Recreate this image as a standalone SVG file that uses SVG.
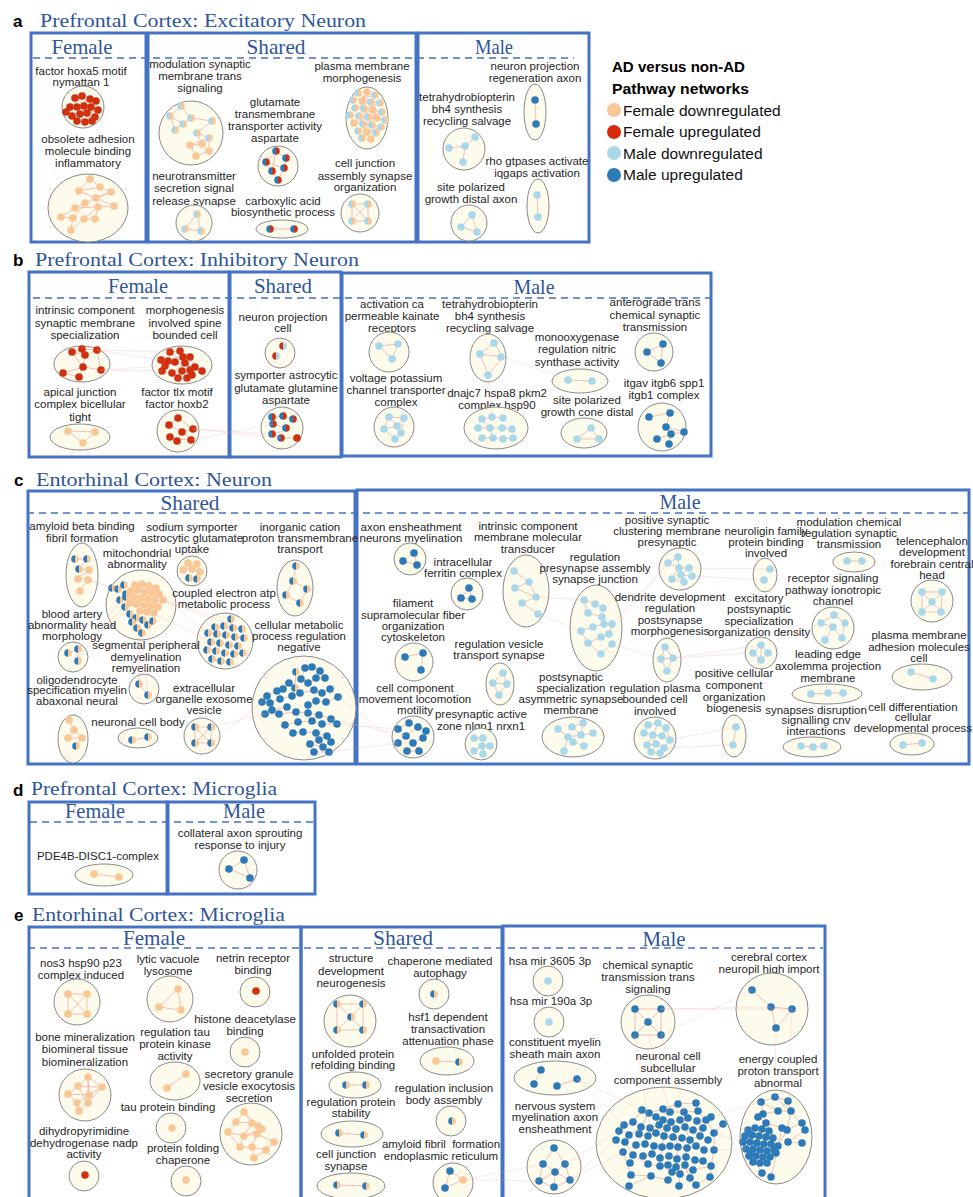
<svg xmlns="http://www.w3.org/2000/svg" width="973" height="1197" viewBox="0 0 973 1197">
<style>
.t{font-family:"Liberation Sans",Arial,sans-serif;font-size:11.5px;fill:#262626;text-anchor:middle}
.cl{fill:#fdfbec;stroke:#8a8a8a;stroke-width:1}
.e{stroke:#f3a49c;stroke-width:0.7;fill:none}
.box{fill:none;stroke:#4472c4;stroke-width:3}
.dash{stroke:#4472c4;stroke-width:1.6;stroke-dasharray:7 5;fill:none}
.ttl{font-family:"Liberation Serif","Times New Roman",serif;font-size:19.5px;fill:#2f5597}
.hd{font-family:"Liberation Serif","Times New Roman",serif;font-size:21px;fill:#2f5597;text-anchor:middle}
.pl{font-family:"Liberation Sans",Arial,sans-serif;font-size:17px;font-weight:bold;fill:#000}
.lg{font-family:"Liberation Sans",Arial,sans-serif;font-size:15.5px;fill:#111}
.lgb{font-family:"Liberation Sans",Arial,sans-serif;font-size:15px;font-weight:bold;fill:#000}
.cx{stroke:#f2aaa4;stroke-width:0.6;opacity:0.45;fill:none}
</style>
<defs>
<g id="fd"><circle r="3.8" fill="#f9c795"/></g>
<g id="fu"><circle r="3.8" fill="#cf3010"/></g>
<g id="md"><circle r="3.8" fill="#a9d8ea"/></g>
<g id="mu"><circle r="3.8" fill="#2d7ab8"/></g>
<g id="bp"><path d="M0,-3.8A3.8,3.8 0 0 0 0,3.8Z" fill="#2d7ab8"/><path d="M0,-3.8A3.8,3.8 0 0 1 0,3.8Z" fill="#f9c795"/></g>
<g id="lp"><path d="M0,-3.8A3.8,3.8 0 0 0 0,3.8Z" fill="#a9d8ea"/><path d="M0,-3.8A3.8,3.8 0 0 1 0,3.8Z" fill="#f9c795"/></g>
<g id="br"><path d="M0,-3.8A3.8,3.8 0 0 0 0,3.8Z" fill="#2d7ab8"/><path d="M0,-3.8A3.8,3.8 0 0 1 0,3.8Z" fill="#cf3010"/></g>
<g id="rl"><path d="M0,-3.8A3.8,3.8 0 0 0 0,3.8Z" fill="#cf3010"/><path d="M0,-3.8A3.8,3.8 0 0 1 0,3.8Z" fill="#a9d8ea"/></g>
</defs>
<rect width="973" height="1197" fill="#fff"/>

<!-- ===== Panel frames and titles ===== -->
<g id="frames">
<text class="pl" x="13" y="27">a</text>
<text class="ttl" x="40" y="27" textLength="326" lengthAdjust="spacingAndGlyphs">Prefrontal Cortex: Excitatory Neuron</text>
<rect class="box" x="31" y="33" width="115" height="209"/>
<rect class="box" x="148" y="33" width="268" height="209"/>
<rect class="box" x="418" y="33" width="171" height="209"/>
<line class="dash" x1="33" y1="58" x2="574" y2="58"/>
<text class="hd" x="82" y="54" textLength="61" lengthAdjust="spacingAndGlyphs">Female</text>
<text class="hd" x="276" y="54" textLength="59" lengthAdjust="spacingAndGlyphs">Shared</text>
<text class="hd" x="494" y="54" textLength="38" lengthAdjust="spacingAndGlyphs">Male</text>

<text class="pl" x="13" y="266">b</text>
<text class="ttl" x="35" y="266" textLength="324" lengthAdjust="spacingAndGlyphs">Prefrontal Cortex: Inhibitory Neuron</text>
<rect class="box" x="29" y="272" width="200" height="185"/>
<rect class="box" x="230" y="272" width="111" height="185"/>
<rect class="box" x="342" y="273" width="369" height="183"/>
<line class="dash" x1="33" y1="298" x2="714" y2="298"/>
<text class="hd" x="138" y="293" textLength="60" lengthAdjust="spacingAndGlyphs">Female</text>
<text class="hd" x="283" y="293" textLength="58" lengthAdjust="spacingAndGlyphs">Shared</text>
<text class="hd" x="534" y="294" textLength="41" lengthAdjust="spacingAndGlyphs">Male</text>

<text class="pl" x="14" y="486">c</text>
<text class="ttl" x="36" y="486" textLength="236" lengthAdjust="spacingAndGlyphs">Entorhinal Cortex: Neuron</text>
<rect class="box" x="28" y="491" width="327" height="273"/>
<rect class="box" x="357" y="490" width="612" height="274"/>
<line class="dash" x1="27" y1="513" x2="968" y2="513"/>
<text class="hd" x="190" y="510" textLength="59" lengthAdjust="spacingAndGlyphs">Shared</text>
<text class="hd" x="680" y="509" textLength="41" lengthAdjust="spacingAndGlyphs">Male</text>

<text class="pl" x="13" y="796">d</text>
<text class="ttl" x="31" y="795" textLength="246" lengthAdjust="spacingAndGlyphs">Prefrontal Cortex: Microglia</text>
<rect class="box" x="29" y="802" width="138" height="92"/>
<rect class="box" x="168" y="802" width="147" height="92"/>
<line class="dash" x1="30" y1="822" x2="313" y2="822"/>
<text class="hd" x="95" y="818" textLength="60" lengthAdjust="spacingAndGlyphs">Female</text>
<text class="hd" x="244" y="818" textLength="42" lengthAdjust="spacingAndGlyphs">Male</text>

<text class="pl" x="14" y="921">e</text>
<text class="ttl" x="32" y="921" textLength="253" lengthAdjust="spacingAndGlyphs">Entorhinal Cortex: Microglia</text>
<rect class="box" x="29" y="927" width="272" height="280"/>
<rect class="box" x="301" y="927" width="201" height="280"/>
<rect class="box" x="503" y="926" width="322" height="281"/>
<line class="dash" x1="28" y1="948" x2="823" y2="948"/>
<text class="hd" x="154" y="945" textLength="62" lengthAdjust="spacingAndGlyphs">Female</text>
<text class="hd" x="403" y="945" textLength="60" lengthAdjust="spacingAndGlyphs">Shared</text>
<text class="hd" x="664" y="946" textLength="43" lengthAdjust="spacingAndGlyphs">Male</text>
</g>

<!-- ===== Legend ===== -->
<g id="legend">
<text class="lgb" x="612" y="72" textLength="133" lengthAdjust="spacingAndGlyphs">AD versus non-AD</text>
<text class="lgb" x="612" y="94" textLength="137" lengthAdjust="spacingAndGlyphs">Pathway networks</text>
<circle cx="614" cy="110" r="7" fill="#f9c795"/>
<text class="lg" x="623" y="116">Female downregulated</text>
<circle cx="614" cy="132" r="7" fill="#d92b0c"/>
<text class="lg" x="623" y="137">Female upregulated</text>
<circle cx="614" cy="153" r="7" fill="#a9d8ea"/>
<text class="lg" x="623" y="159">Male downregulated</text>
<circle cx="614" cy="175" r="7" fill="#2d7ab8"/>
<text class="lg" x="623" y="180">Male upregulated</text>
</g>

<!-- ===== Panel a nodes ===== -->
<g id="a-f-hoxa5">
<text class="t" x="81" y="75">factor hoxa5 motif</text>
<text class="t" x="81" y="86">nymattan 1</text>
<circle class="cl" cx="83" cy="107" r="21"/>
<path class="e" d="M75,98L91,107L72,116L84,106L96,101L87,113L77,121L70,107L82,96L95,117L80,114L98,110L85,122L66,112L90,99L77,107L92,121"/>
<use href="#fu" x="75" y="98"/><use href="#fu" x="82" y="96"/><use href="#fu" x="90" y="99"/><use href="#fu" x="96" y="101"/><use href="#fu" x="70" y="107"/><use href="#fu" x="77" y="107"/><use href="#fu" x="84" y="106"/><use href="#fu" x="91" y="107"/><use href="#fu" x="98" y="110"/><use href="#fu" x="72" y="116"/><use href="#fu" x="80" y="114"/><use href="#fu" x="87" y="113"/><use href="#fu" x="95" y="117"/><use href="#fu" x="77" y="121"/><use href="#fu" x="85" y="122"/><use href="#fu" x="92" y="121"/><use href="#fu" x="66" y="112"/>
</g>
<g id="a-f-adhesion">
<text class="t" x="88" y="143">obsolete adhesion</text>
<text class="t" x="88" y="155">molecule binding</text>
<text class="t" x="88" y="167">inflammatory</text>
<ellipse class="cl" cx="88" cy="208" rx="40" ry="34"/>
<path class="e" d="M90,179L79,191L100,187L111,192L96,198L85,203L75,208L61,217L73,218L71,230M90,179L100,187M79,191L96,198L114,206L98,207L84,219L95,219L98,207M85,203L73,218M96,198L111,192M75,208L98,207M84,219L71,230"/>
<use href="#fd" x="90" y="179"/><use href="#fd" x="79" y="191"/><use href="#fd" x="100" y="187"/><use href="#fd" x="111" y="192"/><use href="#fd" x="85" y="203"/><use href="#fd" x="96" y="198"/><use href="#fd" x="75" y="208"/><use href="#fd" x="98" y="207"/><use href="#fd" x="114" y="206"/><use href="#fd" x="61" y="217"/><use href="#fd" x="73" y="218"/><use href="#fd" x="84" y="219"/><use href="#fd" x="95" y="219"/><use href="#fd" x="71" y="230"/>
</g>
<g id="a-s-modulation">
<text class="t" x="200" y="68">modulation synaptic</text>
<text class="t" x="200" y="80">membrane trans</text>
<text class="t" x="200" y="92">signaling</text>
<circle class="cl" cx="191" cy="133" r="32"/>
<path class="e" d="M181,106L170,116L183,124L191,118L181,106M170,116L175,130L183,124M191,118L212,121L197,133L209,138L190,145L202,144L209,151L196,156L190,145M197,133L202,144M209,138L209,151"/>
<use href="#lp" x="181" y="106"/><use href="#lp" x="170" y="116"/><use href="#lp" x="191" y="118"/><use href="#lp" x="183" y="124"/><use href="#lp" x="175" y="130"/><use href="#lp" x="197" y="133"/><use href="#lp" x="212" y="121"/><use href="#lp" x="209" y="138"/><use href="#fd" x="190" y="145"/><use href="#fd" x="202" y="144"/><use href="#fd" x="209" y="151"/><use href="#fd" x="196" y="156"/>
</g>
<g id="a-s-glutamate">
<text class="t" x="275" y="106">glutamate</text>
<text class="t" x="275" y="118">transmembrane</text>
<text class="t" x="275" y="130">transporter activity</text>
<text class="t" x="275" y="142">aspartate</text>
<circle class="cl" cx="278" cy="166" r="20"/>
<path class="e" d="M276,151L286,158L284,168L278,180L272,171L266,162L276,151M266,162L284,168M276,151L272,171"/>
<use href="#br" x="276" y="151"/><use href="#br" x="286" y="158"/><use href="#br" x="266" y="162"/><use href="#br" x="284" y="168"/><use href="#br" x="272" y="171"/><use href="#br" x="278" y="180"/>
</g>
<g id="a-s-plasma">
<text class="t" x="362" y="70">plasma membrane</text>
<text class="t" x="362" y="82">morphogenesis</text>
<ellipse class="cl" cx="367" cy="118" rx="21" ry="31"/>
<path class="e" d="M358,93L371,102L355,108L373,110L359,116L377,118L363,124L381,127L367,132L362,138M367,92L362,101L380,103L364,109L382,112L368,117L354,123L372,125L358,131L376,133L371,139M353,100L375,95M350,115L385,120"/>
<use href="#lp" x="358" y="93"/><use href="#fd" x="367" y="92"/><use href="#lp" x="375" y="95"/><use href="#lp" x="353" y="100"/><use href="#fd" x="362" y="101"/><use href="#lp" x="371" y="102"/><use href="#lp" x="380" y="103"/><use href="#lp" x="355" y="108"/><use href="#lp" x="364" y="109"/><use href="#fd" x="373" y="110"/><use href="#lp" x="382" y="112"/><use href="#lp" x="350" y="115"/><use href="#lp" x="359" y="116"/><use href="#lp" x="368" y="117"/><use href="#fd" x="377" y="118"/><use href="#lp" x="385" y="120"/><use href="#fd" x="354" y="123"/><use href="#lp" x="363" y="124"/><use href="#lp" x="372" y="125"/><use href="#lp" x="381" y="127"/><use href="#lp" x="358" y="131"/><use href="#fd" x="367" y="132"/><use href="#lp" x="376" y="133"/><use href="#lp" x="362" y="138"/><use href="#fd" x="371" y="139"/>
</g>
<g id="a-s-neurotransmitter">
<text class="t" x="194" y="180">neurotransmitter</text>
<text class="t" x="194" y="192">secretion signal</text>
<text class="t" x="194" y="205">release synapse</text>
<circle class="cl" cx="194" cy="223" r="18"/>
<path class="e" d="M197,214L185,229L201,231L197,214"/>
<use href="#lp" x="197" y="214"/><use href="#lp" x="185" y="229"/><use href="#lp" x="201" y="231"/>
</g>
<g id="a-s-carboxylic">
<text class="t" x="283" y="205">carboxylic acid</text>
<text class="t" x="283" y="216">biosynthetic process</text>
<ellipse class="cl" cx="282" cy="229" rx="26" ry="9"/>
<path class="e" d="M270,229L294,229"/>
<use href="#br" x="270" y="229"/><use href="#br" x="294" y="229"/>
</g>
<g id="a-s-celljunction">
<text class="t" x="365" y="167">cell junction</text>
<text class="t" x="365" y="180">assembly synapse</text>
<text class="t" x="365" y="191">organization</text>
<circle class="cl" cx="360" cy="213" r="19"/>
<path class="e" d="M352,204L368,204L368,221L352,221L352,204L368,221M368,204L352,221"/>
<use href="#lp" x="352" y="204"/><use href="#lp" x="368" y="204"/><use href="#lp" x="352" y="221"/><use href="#lp" x="368" y="221"/>
</g>
<g id="a-m-projection">
<text class="t" x="535" y="70">neuron projection</text>
<text class="t" x="535" y="82">regeneration axon</text>
<ellipse class="cl" cx="535" cy="112" rx="11" ry="28"/>
<path class="e" d="M535,100L536,124"/>
<use href="#mu" x="535" y="100"/><use href="#mu" x="536" y="124"/>
</g>
<g id="a-m-tetrahydro">
<text class="t" x="467" y="101">tetrahydrobiopterin</text>
<text class="t" x="467" y="113">bh4 synthesis</text>
<text class="t" x="467" y="125">recycling salvage</text>
<circle class="cl" cx="464" cy="149" r="21"/>
<path class="e" d="M475,137L465,146L449,148M465,146L463,162"/>
<use href="#md" x="475" y="137"/><use href="#md" x="465" y="146"/><use href="#md" x="449" y="148"/><use href="#md" x="463" y="162"/>
</g>
<g id="a-m-rho">
<text class="t" x="537" y="165">rho gtpases activate</text>
<text class="t" x="537" y="177">iqgaps activation</text>
<ellipse class="cl" cx="538" cy="206" rx="11" ry="27"/>
<path class="e" d="M537,195L538,217"/>
<use href="#md" x="537" y="195"/><use href="#md" x="538" y="217"/>
</g>
<g id="a-m-site">
<text class="t" x="471" y="191">site polarized</text>
<text class="t" x="471" y="203">growth distal axon</text>
<circle class="cl" cx="469" cy="223" r="18"/>
<path class="e" d="M472,215L461,227L477,232L472,215"/>
<use href="#md" x="472" y="215"/><use href="#md" x="461" y="227"/><use href="#md" x="477" y="232"/>
</g>

<!-- ===== Panel b nodes ===== -->
<g id="b-f-intrinsic">
<text class="t" x="85" y="314">intrinsic component</text>
<text class="t" x="85" y="327">synaptic membrane</text>
<text class="t" x="85" y="339">specialization</text>
<ellipse class="cl" cx="82" cy="364" rx="28" ry="18"/>
<path class="e" d="M72,352L82,349L97,350L85,355L72,352L83,367L63,373L79,377L83,367L101,370L97,350M85,355L83,367"/>
<use href="#fu" x="72" y="352"/><use href="#fu" x="82" y="349"/><use href="#fu" x="85" y="355"/><use href="#fu" x="97" y="350"/><use href="#fu" x="83" y="367"/><use href="#fu" x="101" y="370"/><use href="#fu" x="63" y="373"/><use href="#fu" x="79" y="377"/>
</g>
<g id="b-f-morphogenesis">
<text class="t" x="185" y="314">morphogenesis</text>
<text class="t" x="185" y="327">involved spine</text>
<text class="t" x="185" y="339">bounded cell</text>
<ellipse class="cl" cx="182" cy="365" rx="30" ry="19"/>
<path class="e" d="M161,360L170,352L180,351L190,357L195,367L202,371M165,366L175,362L185,363L195,367M162,371L172,373L182,371L192,375M178,378L187,378L190,370L183,357L175,362L168,361L161,360M170,352L185,363L172,373"/>
<use href="#fu" x="161" y="360"/><use href="#fu" x="170" y="352"/><use href="#fu" x="180" y="351"/><use href="#fu" x="190" y="357"/><use href="#fu" x="165" y="366"/><use href="#fu" x="175" y="362"/><use href="#fu" x="185" y="363"/><use href="#fu" x="195" y="367"/><use href="#fu" x="202" y="371"/><use href="#fu" x="162" y="371"/><use href="#fu" x="172" y="373"/><use href="#fu" x="182" y="371"/><use href="#fu" x="192" y="375"/><use href="#fu" x="178" y="378"/><use href="#fu" x="187" y="378"/><use href="#fu" x="168" y="361"/><use href="#fu" x="183" y="357"/><use href="#fu" x="190" y="370"/>
</g>
<g id="b-f-apical">
<text class="t" x="80" y="396">apical junction</text>
<text class="t" x="80" y="408">complex bicellular</text>
<text class="t" x="80" y="421">tight</text>
<ellipse class="cl" cx="80" cy="437" rx="30" ry="13"/>
<path class="e" d="M68,431L95,432L83,443L68,431"/>
<use href="#fd" x="68" y="431"/><use href="#fd" x="95" y="432"/><use href="#fd" x="83" y="443"/>
</g>
<g id="b-f-tlx">
<text class="t" x="177" y="396">factor tlx motif</text>
<text class="t" x="177" y="408">factor hoxb2</text>
<circle class="cl" cx="178" cy="431" r="21"/>
<path class="e" d="M178,418L169,425L182,432L193,429L178,418M170,437L177,440L191,439L182,432"/>
<use href="#fu" x="178" y="418"/><use href="#fu" x="169" y="425"/><use href="#fu" x="193" y="429"/><use href="#fu" x="182" y="432"/><use href="#fu" x="170" y="437"/><use href="#fu" x="177" y="441"/><use href="#fu" x="191" y="440"/>
</g>
<g id="b-s-projection">
<text class="t" x="283" y="321">neuron projection</text>
<text class="t" x="283" y="332">cell</text>
<circle class="cl" cx="280" cy="353" r="15"/>
<use href="#rl" x="283" y="346"/><use href="#rl" x="276" y="356"/>
</g>
<g id="b-s-symporter">
<text class="t" x="286" y="379">symporter astrocytic</text>
<text class="t" x="286" y="392">glutamate glutamine</text>
<text class="t" x="286" y="404">aspartate</text>
<circle class="cl" cx="282" cy="428" r="21"/>
<path class="e" d="M272,417L283,416L293,419M273,424L286,428L281,432L272,434L281,438L297,438"/>
<use href="#br" x="272" y="417"/><use href="#br" x="283" y="416"/><use href="#br" x="293" y="419"/><use href="#br" x="273" y="424"/><use href="#br" x="286" y="428"/><use href="#br" x="272" y="434"/><use href="#br" x="281" y="438"/><use href="#fu" x="297" y="438"/>
</g>
<g id="b-m-activation">
<text class="t" x="392" y="308">activation ca</text>
<text class="t" x="392" y="320">permeable kainate</text>
<text class="t" x="392" y="332">receptors</text>
<circle class="cl" cx="389" cy="352" r="20"/>
<path class="e" d="M379,346L398,344L392,359L379,346"/>
<use href="#md" x="379" y="346"/><use href="#md" x="398" y="344"/><use href="#md" x="392" y="359"/>
</g>
<g id="b-m-tetrahydro">
<text class="t" x="490" y="308">tetrahydrobiopterin</text>
<text class="t" x="490" y="320">bh4 synthesis</text>
<text class="t" x="490" y="332">recycling salvage</text>
<ellipse class="cl" cx="488" cy="358" rx="18" ry="24"/>
<path class="e" d="M494,343L480,354L503,357L494,343M480,354L488,375L503,357"/>
<use href="#md" x="494" y="343"/><use href="#md" x="480" y="354"/><use href="#md" x="501" y="357"/><use href="#md" x="488" y="375"/>
</g>
<g id="b-m-monooxygenase">
<text class="t" x="577" y="341">monooxygenase</text>
<text class="t" x="577" y="353">regulation nitric</text>
<text class="t" x="577" y="366">synthase activity</text>
<ellipse class="cl" cx="580" cy="381" rx="28" ry="12"/>
<path class="e" d="M568,380L592,381"/>
<use href="#md" x="568" y="380"/><use href="#md" x="592" y="381"/>
</g>
<g id="b-m-anterograde">
<text class="t" x="655" y="306">anterograde trans</text>
<text class="t" x="655" y="319">chemical synaptic</text>
<text class="t" x="655" y="331">transmission</text>
<circle class="cl" cx="654" cy="352" r="19"/>
<path class="e" d="M663,344L647,352L661,363L663,344"/>
<use href="#mu" x="663" y="344"/><use href="#mu" x="647" y="352"/><use href="#mu" x="661" y="363"/>
</g>
<g id="b-m-voltage">
<text class="t" x="396" y="382">voltage potassium</text>
<text class="t" x="396" y="394">channel transporter</text>
<text class="t" x="396" y="406">complex</text>
<circle class="cl" cx="394" cy="427" r="20"/>
<path class="e" d="M389,417L404,418L397,426L384,429L389,417L397,426L401,433L395,439L384,429M404,418L401,433"/>
<use href="#md" x="389" y="417"/><use href="#md" x="404" y="418"/><use href="#md" x="397" y="426"/><use href="#md" x="384" y="429"/><use href="#md" x="401" y="433"/><use href="#md" x="395" y="439"/>
</g>
<g id="b-m-dnajc7">
<text class="t" x="497" y="397">dnajc7 hspa8 pkm2</text>
<text class="t" x="497" y="409">complex hsp90</text>
<ellipse class="cl" cx="496" cy="428" rx="32" ry="21"/>
<path class="e" d="M482,419L492,417L503,418M478,428L490,428L502,428L512,429M482,438L493,438L503,439L511,438M482,419L490,428L493,438"/>
<use href="#md" x="482" y="419"/><use href="#md" x="492" y="417"/><use href="#md" x="503" y="418"/><use href="#md" x="478" y="428"/><use href="#md" x="490" y="428"/><use href="#md" x="502" y="428"/><use href="#md" x="512" y="429"/><use href="#md" x="482" y="438"/><use href="#md" x="493" y="438"/><use href="#md" x="503" y="439"/><use href="#md" x="513" y="438"/>
</g>
<g id="b-m-sitecone">
<text class="t" x="587" y="404">site polarized</text>
<text class="t" x="587" y="416">growth cone distal</text>
<ellipse class="cl" cx="584" cy="433" rx="23" ry="15"/>
<path class="e" d="M591,428L577,439L599,439L591,428"/>
<use href="#md" x="591" y="428"/><use href="#md" x="577" y="439"/><use href="#md" x="599" y="439"/>
</g>
<g id="b-m-itgav">
<text class="t" x="664" y="387">itgav itgb6 spp1</text>
<text class="t" x="664" y="399">itgb1 complex</text>
<circle class="cl" cx="662" cy="427" r="24"/>
<path class="e" d="M649,417L670,413L666,427L684,432L671,434L657,439M666,427L671,434L669,444"/>
<use href="#mu" x="649" y="417"/><use href="#mu" x="670" y="413"/><use href="#mu" x="666" y="427"/><use href="#mu" x="684" y="432"/><use href="#mu" x="671" y="434"/><use href="#mu" x="657" y="439"/><use href="#mu" x="669" y="444"/>
</g>

<!-- ===== Panel c nodes ===== -->
<g id="c-s-amyloid">
<text class="t" x="82" y="530">amyloid beta binding</text>
<text class="t" x="82" y="542">fibril formation</text>
<ellipse class="cl" cx="82" cy="575" rx="16" ry="32"/>
<path class="e" d="M75,559L87,559L79,569L89,570L78,578L88,580L80,590"/>
<use href="#bp" x="75" y="559"/><use href="#bp" x="87" y="559"/><use href="#bp" x="79" y="569"/><use href="#fd" x="89" y="570"/><use href="#fd" x="78" y="579"/><use href="#fd" x="88" y="580"/><use href="#fd" x="80" y="591"/>
</g>
<g id="c-s-sodium">
<text class="t" x="192" y="531">sodium symporter</text>
<text class="t" x="192" y="542">astrocytic glutamate</text>
<text class="t" x="192" y="553">uptake</text>
<circle class="cl" cx="192" cy="571" r="15"/>
<path class="e" d="M188,563L197,564L200,572L192,569L183,570L188,563"/>
<use href="#fd" x="188" y="563"/><use href="#fd" x="197" y="564"/><use href="#fd" x="183" y="570"/><use href="#fd" x="200" y="572"/><use href="#fd" x="192" y="569"/><use href="#bp" x="189" y="578"/><use href="#bp" x="197" y="579"/>
</g>
<g id="c-s-inorganic">
<text class="t" x="300" y="531">inorganic cation</text>
<text class="t" x="300" y="542">proton transmembrane</text>
<text class="t" x="300" y="553">transport</text>
<ellipse class="cl" cx="295" cy="588" rx="18" ry="28"/>
<path class="e" d="M296,566L293,581L307,589L300,603L286,595L293,581"/>
<use href="#bp" x="296" y="566"/><use href="#bp" x="293" y="581"/><use href="#bp" x="307" y="589"/><use href="#bp" x="286" y="595"/><use href="#bp" x="300" y="603"/>
</g>
<g id="c-s-mito">
<text class="t" x="137" y="557">mitochondrial</text>
<text class="t" x="137" y="568">abnormality</text>
<circle class="cl" cx="141" cy="605" r="35"/>
<path class="e" d="M135,585L149,586L163,600L155,613L140,611L130,603L131,591L142,584L156,588L159,594M138,590L152,593L148,599L134,597M145,592L141,598L137,604L151,606L158,607M144,605L154,613M118,589L124,585M120,600L126,594M125,607L130,614L136,618L143,620L148,625L153,621M137,628L142,633M132,622L136,618"/>
<use href="#bp" x="112" y="588"/><use href="#bp" x="118" y="589"/><use href="#bp" x="124" y="585"/><use href="#bp" x="126" y="594"/><use href="#bp" x="120" y="600"/><use href="#bp" x="126" y="597"/><use href="#bp" x="125" y="607"/><use href="#bp" x="130" y="614"/><use href="#bp" x="136" y="618"/><use href="#bp" x="143" y="620"/><use href="#bp" x="148" y="625"/><use href="#bp" x="153" y="621"/><use href="#bp" x="137" y="628"/><use href="#bp" x="142" y="633"/><use href="#bp" x="132" y="622"/>
<use href="#fd" x="135" y="585"/><use href="#fd" x="142" y="584"/><use href="#fd" x="149" y="586"/><use href="#fd" x="156" y="588"/><use href="#fd" x="131" y="591"/><use href="#fd" x="138" y="590"/><use href="#fd" x="145" y="592"/><use href="#fd" x="152" y="593"/><use href="#fd" x="159" y="594"/><use href="#fd" x="163" y="600"/><use href="#fd" x="134" y="597"/><use href="#fd" x="141" y="598"/><use href="#fd" x="148" y="599"/><use href="#fd" x="155" y="600"/><use href="#fd" x="137" y="604"/><use href="#fd" x="144" y="605"/><use href="#fd" x="151" y="606"/><use href="#fd" x="158" y="607"/><use href="#fd" x="130" y="603"/><use href="#fd" x="140" y="611"/><use href="#fd" x="147" y="612"/><use href="#fd" x="154" y="613"/>
</g>
<g id="c-s-coupled">
<text class="t" x="224" y="597">coupled electron atp</text>
<text class="t" x="224" y="608">metabolic process</text>
<circle class="cl" cx="225" cy="641" r="28"/>
<path class="e" d="M231,619L233,628L242,629M215,627L224,626L233,628M208,633L217,634L226,635L235,637L244,638M211,642L220,643L229,645L238,646M207,650L216,651L225,653L234,654L243,653M212,659L221,661L230,662"/>
<use href="#bp" x="231" y="619"/><use href="#bp" x="215" y="627"/><use href="#bp" x="224" y="626"/><use href="#bp" x="233" y="628"/><use href="#bp" x="242" y="629"/><use href="#bp" x="208" y="633"/><use href="#bp" x="217" y="634"/><use href="#bp" x="226" y="635"/><use href="#bp" x="235" y="637"/><use href="#bp" x="244" y="638"/><use href="#bp" x="211" y="642"/><use href="#bp" x="220" y="643"/><use href="#bp" x="229" y="645"/><use href="#bp" x="238" y="646"/><use href="#bp" x="207" y="650"/><use href="#bp" x="216" y="651"/><use href="#bp" x="225" y="653"/><use href="#bp" x="234" y="654"/><use href="#bp" x="243" y="653"/><use href="#bp" x="212" y="659"/><use href="#bp" x="221" y="661"/><use href="#bp" x="230" y="662"/>
</g>
<g id="c-s-blood">
<text class="t" x="72" y="618">blood artery</text>
<text class="t" x="72" y="629">abnormality head</text>
<text class="t" x="72" y="640">morphology</text>
<circle class="cl" cx="73" cy="657" r="15"/>
<path class="e" d="M68,653L78,649L78,661"/>
<use href="#bp" x="68" y="653"/><use href="#bp" x="78" y="649"/><use href="#bp" x="78" y="661"/>
</g>
<g id="c-s-cellmetabolic">
<text class="t" x="299" y="629">cellular metabolic</text>
<text class="t" x="299" y="640">process regulation</text>
<text class="t" x="299" y="651">negative</text>
<circle class="cl" cx="304" cy="708" r="52"/>
<path class="e" d="M305,668L312,667L320,671L325,678L316,678L308,683L301,679L305,668M289,683L283,689L277,691L267,696L262,702L270,703L280,699L292,696L300,693L314,690L322,693L330,689L338,697L326,702L316,701L308,705M287,707L272,710L265,714L279,714L296,712L308,713L319,715L331,719L337,724L322,724L312,721L298,722L285,725L293,733L303,732L316,733L327,736L319,740L310,744L323,747L331,742M314,752L329,752M296,672L295,688L300,693"/>
<use href="#bp" x="296" y="672"/><use href="#bp" x="295" y="688"/>
<use href="#mu" x="305" y="668"/><use href="#mu" x="312" y="667"/><use href="#mu" x="320" y="671"/><use href="#mu" x="325" y="678"/><use href="#mu" x="316" y="678"/><use href="#mu" x="301" y="679"/><use href="#mu" x="308" y="683"/><use href="#mu" x="289" y="683"/><use href="#mu" x="283" y="689"/><use href="#mu" x="277" y="691"/><use href="#mu" x="267" y="696"/><use href="#mu" x="262" y="702"/><use href="#mu" x="270" y="703"/><use href="#mu" x="280" y="699"/><use href="#mu" x="292" y="696"/><use href="#mu" x="300" y="693"/><use href="#mu" x="314" y="690"/><use href="#mu" x="322" y="693"/><use href="#mu" x="330" y="689"/><use href="#mu" x="338" y="697"/><use href="#mu" x="326" y="702"/><use href="#mu" x="316" y="701"/><use href="#mu" x="308" y="705"/><use href="#mu" x="287" y="707"/><use href="#mu" x="272" y="710"/><use href="#mu" x="265" y="714"/><use href="#mu" x="279" y="714"/><use href="#mu" x="296" y="712"/><use href="#mu" x="308" y="713"/><use href="#mu" x="319" y="715"/><use href="#mu" x="331" y="719"/><use href="#mu" x="337" y="724"/><use href="#mu" x="322" y="724"/><use href="#mu" x="312" y="721"/><use href="#mu" x="298" y="722"/><use href="#mu" x="285" y="725"/><use href="#mu" x="293" y="733"/><use href="#mu" x="303" y="732"/><use href="#mu" x="316" y="733"/><use href="#mu" x="327" y="736"/><use href="#mu" x="319" y="740"/><use href="#mu" x="310" y="744"/><use href="#mu" x="323" y="747"/><use href="#mu" x="331" y="742"/><use href="#mu" x="314" y="752"/><use href="#mu" x="329" y="752"/>
</g>
<g id="c-s-segmental">
<text class="t" x="146" y="649">segmental peripheral</text>
<text class="t" x="146" y="661">demyelination</text>
<text class="t" x="146" y="672">remyelination</text>
<circle class="cl" cx="144" cy="689" r="15"/>
<path class="e" d="M139,684L148,695"/>
<use href="#bp" x="139" y="684"/><use href="#bp" x="148" y="695"/>
</g>
<g id="c-s-oligo">
<text class="t" x="77" y="684">oligodendrocyte</text>
<text class="t" x="77" y="694">specification myelin</text>
<text class="t" x="77" y="705">abaxonal neural</text>
<ellipse class="cl" cx="73" cy="739" rx="15" ry="24"/>
<path class="e" d="M69,720L74,730L68,738L82,738L76,746M74,730L82,738"/>
<use href="#fd" x="69" y="720"/><use href="#fd" x="74" y="730"/><use href="#fd" x="68" y="738"/><use href="#fd" x="82" y="738"/><use href="#bp" x="76" y="746"/>
</g>
<g id="c-s-neuronalbody">
<text class="t" x="138" y="726">neuronal cell body</text>
<ellipse class="cl" cx="138" cy="738" rx="20" ry="10"/>
<path class="e" d="M132,740L148,737"/>
<use href="#bp" x="132" y="740"/><use href="#bp" x="148" y="737"/>
</g>
<g id="c-s-extracellular">
<text class="t" x="204" y="692">extracellular</text>
<text class="t" x="204" y="703">organelle exosome</text>
<text class="t" x="204" y="714">vesicle</text>
<circle class="cl" cx="202" cy="736" r="18"/>
<path class="e" d="M195,727L211,727L211,743L195,743L195,727L211,743M211,727L195,743"/>
<use href="#bp" x="195" y="727"/><use href="#bp" x="211" y="727"/><use href="#bp" x="195" y="743"/><use href="#bp" x="211" y="743"/>
</g>
<g id="c-m-axonensheath">
<text class="t" x="411" y="531">axon ensheathment</text>
<text class="t" x="411" y="542">neurons myelination</text>
<circle class="cl" cx="410" cy="559" r="16"/>
<path class="e" d="M414,553L403,561L417,565L414,553"/>
<use href="#mu" x="414" y="553"/><use href="#mu" x="403" y="561"/><use href="#mu" x="417" y="565"/>
</g>
<g id="c-m-intrinsic">
<text class="t" x="528" y="530">intrinsic component</text>
<text class="t" x="528" y="541">membrane molecular</text>
<text class="t" x="528" y="553">transducer</text>
<ellipse class="cl" cx="526" cy="591" rx="23" ry="36"/>
<path class="e" d="M514,571L529,582L515,588L536,597L522,603L538,614M529,582L536,597"/>
<use href="#md" x="514" y="571"/><use href="#md" x="529" y="582"/><use href="#md" x="515" y="588"/><use href="#md" x="536" y="597"/><use href="#md" x="522" y="603"/><use href="#md" x="538" y="614"/>
</g>
<g id="c-m-ferritin">
<text class="t" x="463" y="566">intracellular</text>
<text class="t" x="463" y="577">ferritin complex</text>
<circle class="cl" cx="467" cy="594" r="16"/>
<path class="e" d="M469,588L461,598L472,599L469,588"/>
<use href="#mu" x="469" y="588"/><use href="#mu" x="461" y="598"/><use href="#mu" x="472" y="599"/>
</g>
<g id="c-m-presynapse">
<text class="t" x="595" y="561">regulation</text>
<text class="t" x="595" y="572">presynapse assembly</text>
<text class="t" x="595" y="583">synapse junction</text>
<ellipse class="cl" cx="596" cy="628" rx="26" ry="43"/>
<path class="e" d="M584,600L595,604L603,608L602,617L588,613L584,600M593,627L604,624L612,624L609,634L601,637L588,643L581,631L593,627M612,644L601,654L588,643M602,617L604,624"/>
<use href="#md" x="584" y="600"/><use href="#md" x="595" y="604"/><use href="#md" x="603" y="608"/><use href="#md" x="588" y="613"/><use href="#md" x="602" y="617"/><use href="#md" x="593" y="627"/><use href="#md" x="604" y="624"/><use href="#md" x="612" y="624"/><use href="#md" x="581" y="631"/><use href="#md" x="601" y="637"/><use href="#md" x="609" y="634"/><use href="#md" x="588" y="643"/><use href="#md" x="612" y="644"/><use href="#md" x="601" y="654"/>
</g>
<g id="c-m-filament">
<text class="t" x="413" y="607">filament</text>
<text class="t" x="413" y="619">supramolecular fiber</text>
<text class="t" x="413" y="630">organization</text>
<text class="t" x="413" y="641">cytoskeleton</text>
<circle class="cl" cx="414" cy="662" r="19"/>
<path class="e" d="M405,657L423,653L421,670"/>
<use href="#mu" x="405" y="657"/><use href="#mu" x="423" y="653"/><use href="#mu" x="421" y="670"/>
</g>
<g id="c-m-vesicle">
<text class="t" x="499" y="648">regulation vesicle</text>
<text class="t" x="499" y="659">transport synapse</text>
<ellipse class="cl" cx="500" cy="684" rx="14" ry="21"/>
<path class="e" d="M503,673L493,683L507,684L503,673M493,683L499,695L507,684"/>
<use href="#md" x="503" y="673"/><use href="#md" x="493" y="683"/><use href="#md" x="507" y="684"/><use href="#md" x="499" y="695"/>
</g>
<g id="c-m-postsynaptic">
<text class="t" x="571" y="681">postsynaptic</text>
<text class="t" x="571" y="692">specialization</text>
<text class="t" x="571" y="703">asymmetric synapse</text>
<text class="t" x="571" y="714">membrane</text>
<ellipse class="cl" cx="573" cy="737" rx="31" ry="20"/>
<path class="e" d="M572,727L583,723L581,735L568,737L558,729M572,727L581,735L593,733M573,742L584,746M568,737L564,751"/>
<use href="#md" x="572" y="727"/><use href="#md" x="583" y="723"/><use href="#md" x="558" y="729"/><use href="#md" x="568" y="737"/><use href="#md" x="581" y="735"/><use href="#md" x="593" y="733"/><use href="#md" x="573" y="742"/><use href="#md" x="564" y="751"/><use href="#md" x="584" y="746"/>
</g>
<g id="c-m-cellcomponent">
<text class="t" x="415" y="692">cell component</text>
<text class="t" x="415" y="703">movement locomotion</text>
<text class="t" x="415" y="714">motility</text>
<circle class="cl" cx="413" cy="737" r="21"/>
<path class="e" d="M409,723L418,727L426,731L423,738L413,743L406,736L398,729L409,723M406,736L398,743L407,751L419,751L413,743M418,727L406,736"/>
<use href="#mu" x="409" y="723"/><use href="#mu" x="418" y="727"/><use href="#mu" x="398" y="729"/><use href="#mu" x="406" y="736"/><use href="#mu" x="426" y="731"/><use href="#mu" x="398" y="743"/><use href="#mu" x="413" y="743"/><use href="#mu" x="423" y="738"/><use href="#mu" x="407" y="751"/><use href="#mu" x="419" y="751"/>
</g>
<g id="c-m-presynapticactive">
<text class="t" x="481" y="718">presynaptic active</text>
<text class="t" x="481" y="730">zone nlgn1 nrxn1</text>
<circle class="cl" cx="481" cy="744" r="16"/>
<path class="e" d="M474,738L483,738L482,746L489,746M474,751L482,746L483,753"/>
<use href="#md" x="474" y="738"/><use href="#md" x="483" y="738"/><use href="#md" x="482" y="746"/><use href="#md" x="490" y="746"/><use href="#md" x="474" y="751"/><use href="#md" x="483" y="754"/>
</g>
<g id="c-m-positivesynaptic">
<text class="t" x="667" y="524">positive synaptic</text>
<text class="t" x="667" y="535">clustering membrane</text>
<text class="t" x="667" y="546">presynaptic</text>
<circle class="cl" cx="680" cy="569" r="21"/>
<path class="e" d="M668,563L678,557L679,568L689,568L681,575L692,576M668,563L679,568L672,579L684,582L681,575"/>
<use href="#md" x="668" y="563"/><use href="#md" x="678" y="557"/><use href="#md" x="679" y="568"/><use href="#md" x="689" y="568"/><use href="#md" x="681" y="575"/><use href="#md" x="692" y="576"/><use href="#md" x="672" y="579"/><use href="#md" x="684" y="582"/>
</g>
<g id="c-m-neuroligin">
<text class="t" x="766" y="535">neuroligin family</text>
<text class="t" x="766" y="546">protein binding</text>
<text class="t" x="766" y="557">involved</text>
<ellipse class="cl" cx="765" cy="575" rx="12" ry="17"/>
<use href="#md" x="770" y="569"/><use href="#md" x="764" y="580"/>
</g>
<g id="c-m-modulation">
<text class="t" x="849" y="526">modulation chemical</text>
<text class="t" x="849" y="537">regulation synaptic</text>
<text class="t" x="849" y="548">transmission</text>
<ellipse class="cl" cx="854" cy="562" rx="21" ry="10"/>
<path class="e" d="M847,561L862,561"/>
<use href="#md" x="847" y="561"/><use href="#md" x="862" y="561"/>
</g>
<g id="c-m-telencephalon">
<text class="t" x="932" y="545">telencephalon</text>
<text class="t" x="932" y="556">development</text>
<text class="t" x="932" y="568">forebrain central</text>
<text class="t" x="932" y="579">head</text>
<circle class="cl" cx="932" cy="601" r="21"/>
<path class="e" d="M922,592L942,592L941,612L922,612L922,592M922,592L941,612M942,592L922,612"/>
<use href="#md" x="922" y="592"/><use href="#md" x="942" y="592"/><use href="#md" x="932" y="602"/><use href="#md" x="922" y="612"/><use href="#md" x="941" y="612"/>
</g>
<g id="c-m-dendrite">
<text class="t" x="670" y="601">dendrite development</text>
<text class="t" x="670" y="612">regulation</text>
<text class="t" x="670" y="624">postsynapse</text>
<text class="t" x="670" y="635">morphogenesis</text>
<ellipse class="cl" cx="667" cy="660" rx="14" ry="22"/>
<path class="e" d="M665,647L661,659L667,671L673,658L665,647M661,659L673,658"/>
<use href="#md" x="665" y="647"/><use href="#md" x="661" y="659"/><use href="#md" x="673" y="658"/><use href="#md" x="667" y="671"/>
</g>
<g id="c-m-excitatory">
<text class="t" x="759" y="602">excitatory</text>
<text class="t" x="759" y="613">postsynaptic</text>
<text class="t" x="759" y="625">specialization</text>
<text class="t" x="759" y="636">organization density</text>
<circle class="cl" cx="761" cy="653" r="16"/>
<path class="e" d="M761,645L753,653L761,660L768,653L761,645L761,660"/>
<use href="#md" x="761" y="645"/><use href="#md" x="753" y="653"/><use href="#md" x="768" y="653"/><use href="#md" x="761" y="660"/>
</g>
<g id="c-m-receptor">
<text class="t" x="833" y="582">receptor signaling</text>
<text class="t" x="833" y="594">pathway ionotropic</text>
<text class="t" x="833" y="605">channel</text>
<circle class="cl" cx="833" cy="628" r="21"/>
<path class="e" d="M834,615L845,623L842,638L833,627L821,623L834,615M833,627L825,640"/>
<use href="#md" x="834" y="615"/><use href="#md" x="821" y="623"/><use href="#md" x="845" y="623"/><use href="#md" x="833" y="627"/><use href="#md" x="825" y="640"/><use href="#md" x="842" y="638"/>
</g>
<g id="c-m-plasmaadhesion">
<text class="t" x="919" y="639">plasma membrane</text>
<text class="t" x="919" y="651">adhesion molecules</text>
<text class="t" x="919" y="662">cell</text>
<ellipse class="cl" cx="922" cy="677" rx="30" ry="13"/>
<path class="e" d="M911,672L933,679"/>
<use href="#md" x="911" y="672"/><use href="#md" x="933" y="679"/>
</g>
<g id="c-m-leadingedge">
<text class="t" x="828" y="658">leading edge</text>
<text class="t" x="828" y="670">axolemma projection</text>
<text class="t" x="828" y="682">membrane</text>
<ellipse class="cl" cx="827" cy="694" rx="35" ry="10"/>
<path class="e" d="M811,694L828,693L843,693"/>
<use href="#md" x="811" y="694"/><use href="#md" x="828" y="693"/><use href="#md" x="843" y="693"/>
</g>
<g id="c-m-positivecellular">
<text class="t" x="734" y="677">positive cellular</text>
<text class="t" x="734" y="689">component</text>
<text class="t" x="734" y="701">organization</text>
<text class="t" x="734" y="712">biogenesis</text>
<ellipse class="cl" cx="734" cy="736" rx="12" ry="21"/>
<path class="e" d="M736,727L733,745"/>
<use href="#md" x="736" y="727"/><use href="#md" x="733" y="745"/>
</g>
<g id="c-m-regplasma">
<text class="t" x="655" y="692">regulation plasma</text>
<text class="t" x="655" y="703">bounded cell</text>
<text class="t" x="655" y="715">involved</text>
<circle class="cl" cx="655" cy="738" r="21"/>
<path class="e" d="M648,725L658,723L666,728L662,736L653,735L644,733L648,725M653,735L647,745L656,744L664,748L660,753L651,752L647,745M662,736L670,740L664,748M658,723L653,735L656,744M666,728L670,740"/>
<use href="#md" x="648" y="725"/><use href="#md" x="658" y="723"/><use href="#md" x="666" y="728"/><use href="#md" x="644" y="733"/><use href="#md" x="653" y="735"/><use href="#md" x="662" y="736"/><use href="#md" x="670" y="740"/><use href="#md" x="647" y="745"/><use href="#md" x="656" y="744"/><use href="#md" x="664" y="748"/><use href="#md" x="651" y="752"/><use href="#md" x="660" y="753"/>
</g>
<g id="c-m-synapsesdisruption">
<text class="t" x="816" y="714">synapses disruption</text>
<text class="t" x="816" y="724">signalling cnv</text>
<text class="t" x="816" y="735">interactions</text>
<ellipse class="cl" cx="812" cy="747" rx="29" ry="10"/>
<path class="e" d="M801,746L813,747L824,746"/>
<use href="#md" x="801" y="746"/><use href="#md" x="813" y="747"/><use href="#md" x="824" y="746"/>
</g>
<g id="c-m-celldiff">
<text class="t" x="913" y="711">cell differentiation</text>
<text class="t" x="913" y="721">cellular</text>
<text class="t" x="913" y="732">developmental process</text>
<ellipse class="cl" cx="912" cy="744" rx="22" ry="11"/>
<path class="e" d="M903,745L922,743"/>
<use href="#md" x="903" y="745"/><use href="#md" x="922" y="743"/>
</g>

<!-- ===== Panel d nodes ===== -->
<g id="d-f-pde4b">
<text class="t" x="98" y="860">PDE4B-DISC1-complex</text>
<ellipse class="cl" cx="104" cy="875" rx="29" ry="11"/>
<path class="e" d="M94,874L119,877"/>
<use href="#fd" x="94" y="874"/><use href="#fd" x="119" y="877"/>
</g>
<g id="d-m-collateral">
<text class="t" x="240" y="837">collateral axon sprouting</text>
<text class="t" x="240" y="849">response to injury</text>
<circle class="cl" cx="238" cy="870" r="19"/>
<path class="e" d="M244,860L229,869L250,878L244,860"/>
<use href="#mu" x="244" y="860"/><use href="#mu" x="229" y="869"/><use href="#mu" x="250" y="878"/>
</g>

<!-- ===== Panel e nodes ===== -->
<g id="e-f-nos3">
<text class="t" x="81" y="967">nos3 hsp90 p23</text>
<text class="t" x="81" y="979">complex induced</text>
<circle class="cl" cx="77" cy="1002" r="23"/>
<path class="e" d="M68,994L87,994L87,1014L68,1014L68,994L87,1014M87,994L68,1014"/>
<use href="#fd" x="68" y="994"/><use href="#fd" x="87" y="994"/><use href="#fd" x="68" y="1014"/><use href="#fd" x="87" y="1014"/>
</g>
<g id="e-f-lytic">
<text class="t" x="168" y="963">lytic vacuole</text>
<text class="t" x="168" y="975">lysosome</text>
<circle class="cl" cx="170" cy="999" r="23"/>
<path class="e" d="M178,989L159,1007L181,1010L178,989"/>
<use href="#fd" x="178" y="989"/><use href="#fd" x="159" y="1007"/><use href="#fd" x="181" y="1010"/>
</g>
<g id="e-f-netrin">
<text class="t" x="253" y="962">netrin receptor</text>
<text class="t" x="253" y="974">binding</text>
<circle class="cl" cx="255" cy="992" r="15"/>
<use href="#fu" x="256" y="991"/>
</g>
<g id="e-f-histone">
<text class="t" x="245" y="1023">histone deacetylase</text>
<text class="t" x="245" y="1035">binding</text>
<circle class="cl" cx="245" cy="1052" r="15"/>
<use href="#fd" x="245" y="1052"/>
</g>
<g id="e-f-bone">
<text class="t" x="85" y="1041">bone mineralization</text>
<text class="t" x="85" y="1053">biomineral tissue</text>
<text class="t" x="85" y="1066">biomineralization</text>
<circle class="cl" cx="85" cy="1095" r="26"/>
<path class="e" d="M88,1077L78,1086L68,1094L77,1103L79,1111L88,1103L102,1087L88,1077L89,1095L77,1103M78,1086L102,1087L89,1095L68,1094M88,1077L88,1103M78,1086L88,1103"/>
<use href="#fd" x="88" y="1077"/><use href="#fd" x="78" y="1086"/><use href="#fd" x="102" y="1087"/><use href="#fd" x="68" y="1094"/><use href="#fd" x="89" y="1095"/><use href="#fd" x="77" y="1103"/><use href="#fd" x="88" y="1103"/><use href="#fd" x="79" y="1111"/>
</g>
<g id="e-f-regtau">
<text class="t" x="175" y="1036">regulation tau</text>
<text class="t" x="175" y="1048">protein kinase</text>
<text class="t" x="175" y="1060">activity</text>
<ellipse class="cl" cx="175" cy="1081" rx="25" ry="19"/>
<path class="e" d="M186,1074L167,1088"/>
<use href="#fd" x="186" y="1074"/><use href="#fd" x="167" y="1088"/>
</g>
<g id="e-f-secretory">
<text class="t" x="249" y="1078">secretory granule</text>
<text class="t" x="249" y="1090">vesicle exocytosis</text>
<text class="t" x="249" y="1102">secretion</text>
<circle class="cl" cx="251" cy="1134" r="31"/>
<path class="e" d="M244,1112L236,1122L228,1132L244,1136L252,1123L244,1112L258,1126L262,1129L257,1134L274,1142L266,1150L252,1147L240,1147L244,1136L257,1134L252,1147L254,1158L266,1150M236,1122L252,1123L258,1126M228,1132L240,1147M262,1129L244,1136"/>
<use href="#fd" x="244" y="1112"/><use href="#fd" x="236" y="1122"/><use href="#fd" x="252" y="1123"/><use href="#fd" x="258" y="1126"/><use href="#fd" x="228" y="1132"/><use href="#fd" x="244" y="1136"/><use href="#fd" x="262" y="1129"/><use href="#fd" x="257" y="1134"/><use href="#fd" x="274" y="1142"/><use href="#fd" x="240" y="1147"/><use href="#fd" x="252" y="1147"/><use href="#fd" x="266" y="1150"/><use href="#fd" x="254" y="1158"/>
</g>
<g id="e-f-taubinding">
<text class="t" x="168" y="1111">tau protein binding</text>
<circle class="cl" cx="171" cy="1128" r="15"/>
<use href="#fd" x="172" y="1128"/>
</g>
<g id="e-f-dihydro">
<text class="t" x="84" y="1135">dihydropyrimidine</text>
<text class="t" x="84" y="1147">dehydrogenase nadp</text>
<text class="t" x="84" y="1158">activity</text>
<circle class="cl" cx="84" cy="1176" r="15"/>
<use href="#fu" x="85" y="1175"/>
</g>
<g id="e-f-folding">
<text class="t" x="183" y="1152">protein folding</text>
<text class="t" x="183" y="1164">chaperone</text>
<circle class="cl" cx="186" cy="1181" r="15"/>
<use href="#fd" x="186" y="1180"/>
</g>
<g id="e-s-structure">
<text class="t" x="351" y="962">structure</text>
<text class="t" x="351" y="975">development</text>
<text class="t" x="351" y="987">neurogenesis</text>
<circle class="cl" cx="350" cy="1021" r="26"/>
<path class="e" d="M337,1004L363,1004L363,1030L337,1030L337,1004L351,1017L363,1030M363,1004L351,1017L337,1030"/>
<use href="#bp" x="337" y="1004"/><use href="#bp" x="363" y="1004"/><use href="#bp" x="351" y="1017"/><use href="#bp" x="337" y="1030"/><use href="#bp" x="363" y="1030"/>
</g>
<g id="e-s-chaperone">
<text class="t" x="440" y="965">chaperone mediated</text>
<text class="t" x="440" y="977">autophagy</text>
<circle class="cl" cx="434" cy="994" r="15"/>
<use href="#bp" x="434" y="994"/>
</g>
<g id="e-s-hsf1">
<text class="t" x="448" y="1021">hsf1 dependent</text>
<text class="t" x="448" y="1033">transactivation</text>
<text class="t" x="448" y="1045">attenuation phase</text>
<ellipse class="cl" cx="447" cy="1061" rx="27" ry="14"/>
<path class="e" d="M436,1061L459,1062"/>
<use href="#fd" x="436" y="1061"/><use href="#bp" x="459" y="1062"/>
</g>
<g id="e-s-unfolded">
<text class="t" x="353" y="1058">unfolded protein</text>
<text class="t" x="353" y="1069">refolding binding</text>
<ellipse class="cl" cx="355" cy="1085" rx="26" ry="13"/>
<path class="e" d="M346,1085L366,1085"/>
<use href="#bp" x="346" y="1085"/><use href="#bp" x="366" y="1085"/>
</g>
<g id="e-s-inclusion">
<text class="t" x="444" y="1092">regulation inclusion</text>
<text class="t" x="444" y="1104">body assembly</text>
<circle class="cl" cx="451" cy="1121" r="15"/>
<use href="#bp" x="452" y="1121"/>
</g>
<g id="e-s-regprotein">
<text class="t" x="351" y="1106">regulation protein</text>
<text class="t" x="351" y="1117">stability</text>
<ellipse class="cl" cx="352" cy="1134" rx="31" ry="13"/>
<path class="e" d="M339,1133L364,1135"/>
<use href="#bp" x="339" y="1133"/><use href="#bp" x="364" y="1135"/>
</g>
<g id="e-s-amyloidfibril">
<text class="t" x="441" y="1148" xml:space="preserve">amyloid fibril  formation</text>
<text class="t" x="441" y="1160">endoplasmic reticulum</text>
<circle class="cl" cx="453" cy="1183" r="20"/>
<path class="e" d="M450,1171L445,1188M450,1171L463,1180L445,1188"/>
<use href="#mu" x="450" y="1171"/><use href="#mu" x="445" y="1188"/><use href="#fd" x="463" y="1180"/>
</g>
<g id="e-s-celljunction">
<text class="t" x="346" y="1158">cell junction</text>
<text class="t" x="346" y="1170">synapse</text>
<ellipse class="cl" cx="351" cy="1186" rx="34" ry="13"/>
<path class="e" d="M337,1185L366,1186"/>
<use href="#bp" x="337" y="1185"/><use href="#bp" x="366" y="1186"/>
</g>
<g id="e-m-mir3605">
<text class="t" x="550" y="965">hsa mir 3605 3p</text>
<circle class="cl" cx="548" cy="981" r="15"/>
<use href="#md" x="548" y="981"/>
</g>
<g id="e-m-mir190a">
<text class="t" x="551" y="1005">hsa mir 190a 3p</text>
<circle class="cl" cx="549" cy="1022" r="15"/>
<use href="#md" x="549" y="1022"/>
</g>
<g id="e-m-constituent">
<text class="t" x="555" y="1046">constituent myelin</text>
<text class="t" x="555" y="1058">sheath main axon</text>
<ellipse class="cl" cx="555" cy="1078" rx="41" ry="17"/>
<path class="e" d="M541,1070L534,1084M557,1086L577,1079"/>
<use href="#mu" x="541" y="1070"/><use href="#mu" x="534" y="1084"/><use href="#mu" x="557" y="1086"/><use href="#mu" x="577" y="1079"/>
</g>
<g id="e-m-chemsyn">
<text class="t" x="648" y="969">chemical synaptic</text>
<text class="t" x="648" y="981">transmission trans</text>
<text class="t" x="648" y="993">signaling</text>
<circle class="cl" cx="648" cy="1022" r="27"/>
<path class="e" d="M635,1009L661,1009L648,1022L635,1035L661,1035L648,1022L635,1009L635,1035M661,1009L661,1035"/>
<use href="#mu" x="635" y="1009"/><use href="#mu" x="661" y="1009"/><use href="#mu" x="648" y="1022"/><use href="#mu" x="635" y="1035"/><use href="#mu" x="661" y="1035"/>
</g>
<g id="e-m-cerebral">
<text class="t" x="769" y="961">cerebral cortex</text>
<text class="t" x="769" y="973">neuropil high import</text>
<circle class="cl" cx="772" cy="1009" r="36"/>
<path class="e" d="M752,990L771,1007L792,1009L776,1028L771,1007"/>
<use href="#mu" x="752" y="990"/><use href="#mu" x="771" y="1007"/><use href="#mu" x="792" y="1009"/><use href="#mu" x="776" y="1028"/>
</g>
<g id="e-m-neuronalcell">
<text class="t" x="668" y="1060">neuronal cell</text>
<text class="t" x="668" y="1072">subcellular</text>
<text class="t" x="668" y="1084">component assembly</text>
<ellipse class="cl" cx="664" cy="1143" rx="68" ry="56"/>
<path class="e" d="M678,1104L663,1109L649,1113L641,1127L629,1135L625,1142L633,1155L648,1164L660,1166L676,1167L693,1170L711,1166L714,1150L714,1133L706,1120L698,1111L696,1103L678,1104L670,1112L684,1112L698,1111M663,1120L671,1122L680,1120L688,1118M650,1128L659,1125L667,1128L676,1129L685,1127L693,1130L703,1128M639,1134L648,1136L656,1133L664,1136L673,1137L682,1138L690,1140L700,1136M636,1145L645,1144L654,1146L662,1147L670,1146L678,1147L687,1148L696,1146L704,1150M643,1156L652,1154L660,1158L669,1156L677,1159L686,1157L695,1160L703,1161M663,1109L671,1122L676,1137L678,1147L677,1159L680,1174L679,1186M656,1117L659,1125L664,1136L662,1147L660,1158L668,1165L672,1172M684,1112L685,1127L690,1140L687,1148L686,1157L685,1165L690,1178M619,1131L633,1122L642,1110M623,1152L631,1175L651,1176L668,1180M629,1186L651,1176M696,1185L710,1177L711,1166M723,1124L714,1133"/>
<use href="#mu" x="696" y="1103"/><use href="#mu" x="678" y="1104"/><use href="#mu" x="663" y="1109"/><use href="#mu" x="670" y="1112"/><use href="#mu" x="684" y="1112"/><use href="#mu" x="698" y="1111"/><use href="#mu" x="711" y="1117"/><use href="#mu" x="642" y="1110"/><use href="#mu" x="649" y="1113"/><use href="#mu" x="656" y="1117"/><use href="#mu" x="663" y="1120"/><use href="#mu" x="671" y="1122"/><use href="#mu" x="680" y="1120"/><use href="#mu" x="688" y="1118"/><use href="#mu" x="697" y="1121"/><use href="#mu" x="706" y="1120"/><use href="#mu" x="723" y="1124"/><use href="#mu" x="624" y="1125"/><use href="#mu" x="633" y="1122"/><use href="#mu" x="641" y="1127"/><use href="#mu" x="650" y="1128"/><use href="#mu" x="659" y="1125"/><use href="#mu" x="667" y="1128"/><use href="#mu" x="676" y="1129"/><use href="#mu" x="685" y="1127"/><use href="#mu" x="693" y="1130"/><use href="#mu" x="703" y="1128"/><use href="#mu" x="714" y="1133"/><use href="#mu" x="619" y="1131"/><use href="#mu" x="629" y="1135"/><use href="#mu" x="639" y="1134"/><use href="#mu" x="648" y="1136"/><use href="#mu" x="656" y="1133"/><use href="#mu" x="664" y="1136"/><use href="#mu" x="673" y="1137"/><use href="#mu" x="682" y="1138"/><use href="#mu" x="690" y="1140"/><use href="#mu" x="700" y="1136"/><use href="#mu" x="708" y="1140"/><use href="#mu" x="616" y="1140"/><use href="#mu" x="625" y="1142"/><use href="#mu" x="636" y="1145"/><use href="#mu" x="645" y="1144"/><use href="#mu" x="654" y="1146"/><use href="#mu" x="662" y="1147"/><use href="#mu" x="670" y="1146"/><use href="#mu" x="678" y="1147"/><use href="#mu" x="687" y="1148"/><use href="#mu" x="696" y="1146"/><use href="#mu" x="704" y="1150"/><use href="#mu" x="714" y="1150"/><use href="#mu" x="623" y="1152"/><use href="#mu" x="633" y="1155"/><use href="#mu" x="643" y="1156"/><use href="#mu" x="652" y="1154"/><use href="#mu" x="660" y="1158"/><use href="#mu" x="669" y="1156"/><use href="#mu" x="677" y="1159"/><use href="#mu" x="686" y="1157"/><use href="#mu" x="695" y="1160"/><use href="#mu" x="703" y="1161"/><use href="#mu" x="630" y="1163"/><use href="#mu" x="648" y="1164"/><use href="#mu" x="660" y="1166"/><use href="#mu" x="668" y="1165"/><use href="#mu" x="676" y="1167"/><use href="#mu" x="685" y="1165"/><use href="#mu" x="693" y="1170"/><use href="#mu" x="711" y="1166"/><use href="#mu" x="631" y="1175"/><use href="#mu" x="651" y="1176"/><use href="#mu" x="672" y="1172"/><use href="#mu" x="680" y="1174"/><use href="#mu" x="690" y="1178"/><use href="#mu" x="668" y="1180"/><use href="#mu" x="710" y="1177"/><use href="#mu" x="679" y="1186"/><use href="#mu" x="629" y="1186"/><use href="#mu" x="696" y="1185"/>
</g>
<g id="e-m-energy">
<text class="t" x="778" y="1063">energy coupled</text>
<text class="t" x="778" y="1075">proton transport</text>
<text class="t" x="778" y="1087">abnormal</text>
<ellipse class="cl" cx="776" cy="1137" rx="36" ry="47"/>
<path class="e" d="M761,1102L775,1097L788,1101L791,1111L778,1111L763,1114L761,1102L778,1111L788,1101M758,1117L766,1123L782,1128L787,1130L802,1123L805,1130L788,1142L802,1143M791,1111L805,1130M775,1097L791,1111L787,1130M748,1130L755,1128L762,1129L769,1131L773,1138L771,1144L774,1150L770,1157L767,1163L760,1163L753,1162L749,1156L746,1149L743,1142L745,1136L748,1130M752,1135L759,1136L766,1137M750,1142L757,1143L764,1144M753,1149L760,1150L767,1151M756,1156L763,1157M778,1146L787,1130M776,1156L771,1177M751,1154L762,1173M776,1153L782,1128"/>
<use href="#mu" x="761" y="1102"/><use href="#mu" x="775" y="1097"/><use href="#mu" x="788" y="1101"/><use href="#mu" x="791" y="1111"/><use href="#mu" x="778" y="1111"/><use href="#mu" x="763" y="1114"/><use href="#mu" x="758" y="1117"/><use href="#mu" x="766" y="1123"/><use href="#mu" x="782" y="1128"/><use href="#mu" x="787" y="1130"/><use href="#mu" x="802" y="1123"/><use href="#mu" x="805" y="1130"/><use href="#mu" x="788" y="1142"/><use href="#mu" x="802" y="1143"/><use href="#mu" x="751" y="1154"/><use href="#mu" x="762" y="1173"/><use href="#mu" x="771" y="1177"/><use href="#mu" x="776" y="1153"/>
<use href="#mu" x="748" y="1130"/><use href="#mu" x="755" y="1128"/><use href="#mu" x="762" y="1129"/><use href="#mu" x="769" y="1131"/><use href="#mu" x="745" y="1136"/><use href="#mu" x="752" y="1135"/><use href="#mu" x="759" y="1136"/><use href="#mu" x="766" y="1137"/><use href="#mu" x="773" y="1138"/><use href="#mu" x="743" y="1142"/><use href="#mu" x="750" y="1142"/><use href="#mu" x="757" y="1143"/><use href="#mu" x="764" y="1144"/><use href="#mu" x="771" y="1144"/><use href="#mu" x="746" y="1149"/><use href="#mu" x="753" y="1149"/><use href="#mu" x="760" y="1150"/><use href="#mu" x="767" y="1151"/><use href="#mu" x="774" y="1150"/><use href="#mu" x="749" y="1156"/><use href="#mu" x="756" y="1156"/><use href="#mu" x="763" y="1157"/><use href="#mu" x="770" y="1157"/><use href="#mu" x="753" y="1162"/><use href="#mu" x="760" y="1163"/><use href="#mu" x="767" y="1163"/><use href="#mu" x="778" y="1146"/>
</g>
<g id="e-m-nervous">
<text class="t" x="555" y="1110">nervous system</text>
<text class="t" x="555" y="1121">myelination axon</text>
<text class="t" x="555" y="1133">ensheathment</text>
<circle class="cl" cx="554" cy="1167" r="27"/>
<path class="e" d="M554,1148L543,1164L555,1172L565,1164L554,1148M543,1164L539,1181L554,1187L570,1180L565,1164M555,1172L554,1187M555,1172L539,1181M555,1172L570,1180"/>
<use href="#mu" x="554" y="1148"/><use href="#mu" x="543" y="1164"/><use href="#mu" x="565" y="1164"/><use href="#mu" x="555" y="1172"/><use href="#mu" x="539" y="1181"/><use href="#mu" x="570" y="1180"/><use href="#mu" x="554" y="1187"/>
</g>

<!-- ===== Inter-cluster connectors ===== -->
<g id="connectors" class="cx">
<path d="M97,350L161,360M101,370L165,366M97,350L170,352M101,370L162,371"/>
<path d="M193,429L272,434M191,440L273,424M193,429L281,438"/>
<path d="M503,357L568,380M488,375L492,417"/>
<path d="M89,580L118,589M88,580L112,588"/>
<path d="M150,612L211,642M155,600L231,619M159,594L208,633M163,600L242,629"/>
<path d="M140,620L139,684M142,633L148,695M137,628L139,684"/>
<path d="M125,607L78,649M120,600L78,661"/>
<path d="M262,702L211,743M265,714L211,727"/>
<path d="M337,724L398,729M331,719L406,736M338,697L398,743M329,752L398,743"/>
<path d="M612,624L668,563M612,644L661,659M609,634L668,563"/>
<path d="M673,658L753,653M692,576L764,580M689,568L770,569M673,658L761,645"/>
<path d="M664,748L733,745M670,740L736,727"/>
<path d="M538,614L581,631M536,597L584,600"/>
<path d="M661,1009L771,1007M661,1035L752,990M661,1009L792,1009"/>
<path d="M648,1035L670,1112M635,1035L650,1128M661,1035L684,1112"/>
<path d="M714,1133L743,1142M711,1117L761,1102M723,1124L748,1130M714,1150L746,1149"/>
<path d="M619,1131L565,1164M616,1140L570,1180M623,1152L570,1180"/>
<path d="M577,1079L642,1110M577,1079L624,1125"/>
<path d="M463,1180L539,1181M463,1180L543,1164"/>
<path d="M776,1028L775,1097M792,1009L788,1101"/>
</g>
</svg>
